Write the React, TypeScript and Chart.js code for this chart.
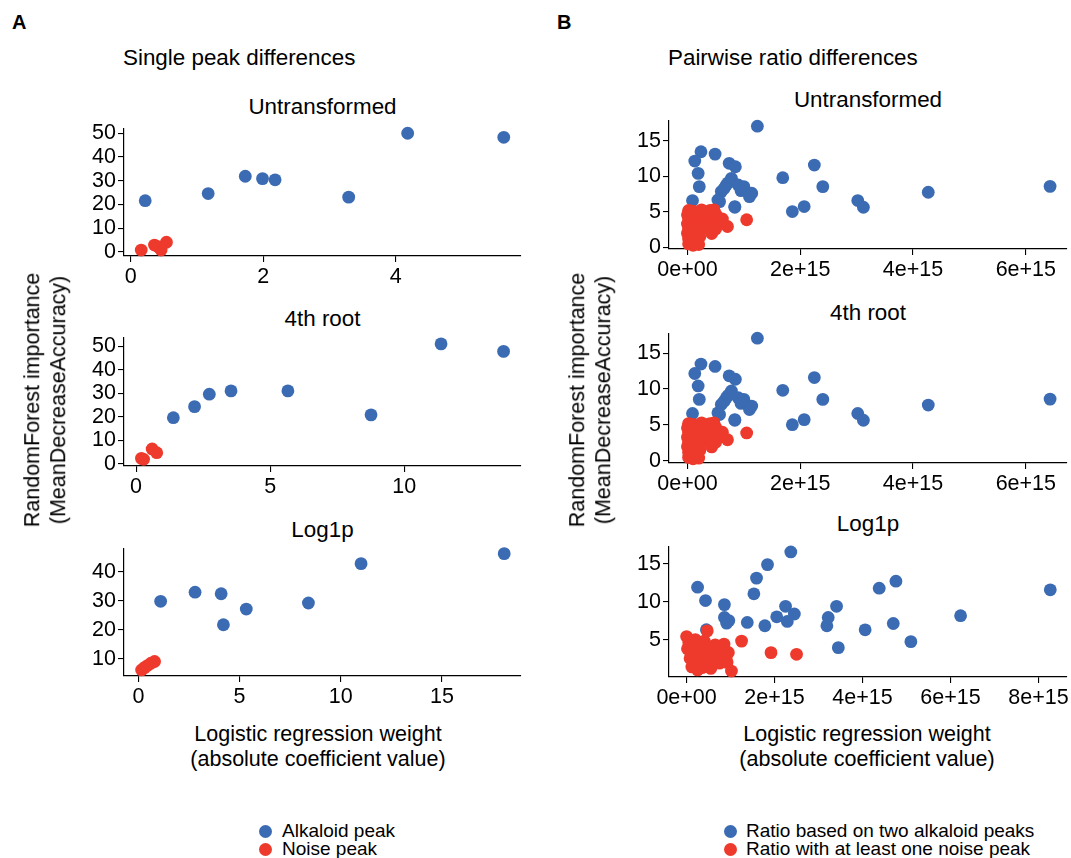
import React, { useEffect, useRef } from "react";
import { Chart, registerables } from "chart.js";
Chart.register(...registerables);

const BLUE = "#3B6BB2";
const RED = "#EE3A2C";
const FONT = "'Liberation Sans', Arial, Helvetica, sans-serif";

// ---------- A: single peak differences ----------
// Untransformed
const rawAlkX = [0.22, 1.17, 1.73, 1.99, 2.18, 3.29, 4.18, 5.63];
const rawAlkY = [21.6, 24.6, 31.9, 30.9, 30.4, 23.1, 50.0, 48.3];
const rawNoiseX = [0.16, 0.36, 0.42, 0.46, 0.54];
const rawNoiseY = [0.8, 2.9, 2.1, 0.8, 4.1];
// 4th root
const rootAlkX = [1.39, 2.18, 2.73, 3.54, 5.66, 8.76, 11.37, 13.7];
const rootAlkY = [19.7, 24.4, 29.7, 31.1, 31.1, 20.9, 51.1, 47.9];
const rootNoiseX = [0.2, 0.28, 0.6, 0.77];
const rootNoiseY = [2.4, 2.0, 6.4, 4.8];
// Log1p
const logAlkX = [1.1, 2.8, 4.09, 4.2, 5.33, 8.4, 11.0, 18.07];
const logAlkY = [29.8, 32.95, 32.4, 21.7, 27.1, 29.2, 42.8, 46.25];
const logNoiseX = [0.16, 0.3, 0.45, 0.62, 0.8];
const logNoiseY = [6.1, 6.9, 7.6, 8.4, 9.0];

// ---------- B: pairwise ratio differences (x in units of 1e15) ----------
// Untransformed (4th root panel shows the same values)
const ratioAlkX = [1.24, 0.24, 0.13, 0.49, 0.19, 0.21, 0.09, 0.74, 0.85, 0.78, 0.69, 0.6, 0.54, 1.0, 1.14, 0.84, 1.69, 2.25, 2.4, 1.86, 2.07, 3.02, 3.12, 4.27, 6.43, 0.65, 0.72, 0.9, 0.95, 0.57, 0.84, 1.1];
const ratioAlkY = [17.07, 13.47, 12.16, 13.14, 10.43, 8.56, 6.6, 11.84, 11.36, 9.73, 8.79, 7.86, 6.69, 8.56, 7.63, 5.66, 9.82, 11.6, 8.56, 5.05, 5.75, 6.6, 5.66, 7.77, 8.6, 8.3, 9.1, 8.8, 8.0, 6.45, 5.75, 7.15];
const ratioNoiseX = [0.02, 0.02, 0.0, 0.02, 0.0, 0.02, 0.0, 0.02, 0.1, 0.12, 0.1, 0.12, 0.1, 0.12, 0.1, 0.2, 0.22, 0.2, 0.22, 0.2, 0.22, 0.25, 0.3, 0.32, 0.3, 0.33, 0.4, 0.42, 0.4, 0.43, 0.5, 0.52, 0.5, 0.47, 0.6, 0.62, 0.71, 1.05];
const ratioNoiseY = [0.5, 1.2, 2.0, 2.6, 3.3, 4.0, 4.6, 5.2, 0.3, 1.0, 1.8, 2.9, 3.6, 4.4, 5.1, 0.4, 1.5, 2.3, 3.1, 4.2, 4.9, 5.3, 2.7, 3.8, 4.5, 5.0, 3.3, 4.1, 5.2, 1.95, 2.6, 3.5, 4.7, 5.3, 3.4, 4.0, 2.95, 3.9];
// Log1p
const ratioLogAlkX = [2.37, 1.84, 1.59, 1.53, 0.25, 0.43, 0.86, 0.86, 0.91, 0.96, 0.45, 1.38, 1.78, 2.05, 2.25, 2.29, 2.45, 3.22, 3.19, 3.41, 3.45, 4.06, 4.38, 4.76, 4.7, 5.1, 6.23, 8.27];
const ratioLogAlkY = [16.55, 14.88, 13.1, 11.03, 11.9, 10.14, 9.61, 7.92, 7.17, 7.5, 6.3, 7.26, 6.82, 8.0, 9.38, 7.39, 8.37, 7.92, 6.82, 9.38, 3.94, 6.29, 11.77, 12.7, 7.12, 4.73, 8.15, 11.56];
const ratioLogNoiseX = [0.0, 0.05, 0.02, 0.1, 0.15, 0.12, 0.25, 0.3, 0.28, 0.22, 0.3, 0.2, 0.47, 0.4, 0.45, 0.42, 0.5, 0.45, 0.55, 0.6, 0.65, 0.7, 0.75, 0.8, 0.85, 0.9, 0.95, 0.92, 1.02, 1.25, 1.92, 2.5, 0.35, 0.08];
const ratioLogNoiseY = [5.4, 4.6, 3.8, 3.0, 2.2, 1.4, 1.0, 1.8, 2.8, 3.6, 4.4, 5.0, 6.15, 4.8, 3.9, 3.1, 2.3, 1.5, 1.2, 3.5, 4.3, 2.9, 1.9, 3.6, 4.4, 2.6, 3.3, 2.0, 0.85, 4.8, 3.28, 3.06, 1.3, 2.5];

// ---------- ticks ----------
const ticksX1 = [0, 2, 4];
const ticksX2 = [0, 5, 10];
const ticksX3 = [0, 5, 10, 15];
const ticksY50 = [0, 10, 20, 30, 40, 50];
const ticksYLog = [10, 20, 30, 40];
const ticksRatioX = [0, 2, 4, 6];
const labelsRatioX = ["0e+00", "2e+15", "4e+15", "6e+15"];
const ticksRatioXLog = [0, 2, 4, 6, 8];
const labelsRatioXLog = ["0e+00", "2e+15", "4e+15", "6e+15", "8e+15"];
const ticksRatioY = [0, 5, 10, 15];
const ticksRatioYLog = [5, 10, 15];

const pts = (xs: number[], ys: number[]) => xs.map((x, i) => ({ x, y: ys[i] }));

const YW = 70; // y-axis box width
const XH = 40; // x-axis box height
const PT = 15;
const PR = 30;
const TITLE = 22.4;

interface Spec {
  L: number; R: number; T: number; B: number;
  xMin: number; xMax: number; xTicks: number[]; xLabels?: string[];
  yMin: number; yMax: number; yTicks: number[];
  blue: { x: number; y: number }[]; red: { x: number; y: number }[];
}

const specs: Spec[] = [
  { L: 124, R: 521, T: 129, B: 256, xMin: -0.1, xMax: 5.89, xTicks: ticksX1, yMin: -1.7, yMax: 51.8, yTicks: ticksY50, blue: pts(rawAlkX, rawAlkY), red: pts(rawNoiseX, rawNoiseY) },
  { L: 124, R: 521, T: 338, B: 466, xMin: -0.45, xMax: 14.35, xTicks: ticksX2, yMin: -0.85, yMax: 53.6, yTicks: ticksY50, blue: pts(rootAlkX, rootAlkY), red: pts(rootNoiseX, rootNoiseY) },
  { L: 124, R: 521, T: 549, B: 676, xMin: -0.71, xMax: 18.9, xTicks: ticksX3, yMin: 4.0, yMax: 47.85, yTicks: ticksYLog, blue: pts(logAlkX, logAlkY), red: pts(logNoiseX, logNoiseY) },
  { L: 669, R: 1067, T: 121, B: 249, xMin: -0.327, xMax: 6.73, xTicks: ticksRatioX, xLabels: labelsRatioX, yMin: -0.22, yMax: 17.8, yTicks: ticksRatioY, blue: pts(ratioAlkX, ratioAlkY), red: pts(ratioNoiseX, ratioNoiseY) },
  { L: 669, R: 1067, T: 334, B: 463, xMin: -0.327, xMax: 6.73, xTicks: ticksRatioX, xLabels: labelsRatioX, yMin: -0.28, yMax: 17.65, yTicks: ticksRatioY, blue: pts(ratioAlkX, ratioAlkY), red: pts(ratioNoiseX, ratioNoiseY) },
  { L: 669, R: 1067, T: 547, B: 677, xMin: -0.4, xMax: 8.65, xTicks: ticksRatioXLog, xLabels: labelsRatioXLog, yMin: 0.07, yMax: 17.2, yTicks: ticksRatioYLog, blue: pts(ratioLogAlkX, ratioLogAlkY), red: pts(ratioLogNoiseX, ratioLogNoiseY) },
];

function axisOpts(min: number, max: number, ticks: number[], labels: string[] | undefined, isX: boolean) {
  return {
    type: "linear" as const,
    min,
    max,
    afterBuildTicks: (s: any) => {
      s.ticks = ticks.map((v) => ({ value: v }));
    },
    afterFit: (s: any) => {
      if (isX) s.height = XH;
      else s.width = YW;
    },
    grid: { display: true, drawOnChartArea: false, drawTicks: true, tickLength: 6, color: "#000", lineWidth: 1.1 },
    border: { display: true, color: "#000", width: 1.2 },
    ticks: {
      color: "#000",
      font: { family: FONT, size: 21.5 },
      padding: 2,
      maxRotation: 0,
      autoSkip: false,
      callback: (v: any, i: number) => (labels ? labels[i] : String(v)),
    },
  };
}

function Panel({ spec }: { spec: Spec }) {
  const ref = useRef<HTMLCanvasElement>(null);
  const W = spec.R - spec.L + YW + PR;
  const H = spec.B - spec.T + PT + XH;
  useEffect(() => {
    const chart = new Chart(ref.current!, {
      type: "scatter",
      data: {
        datasets: [
          { data: spec.red, backgroundColor: RED, borderColor: RED, borderWidth: 0, pointRadius: 6.4, pointHoverRadius: 6.4, order: 0, clip: false } as any,
          { data: spec.blue, backgroundColor: BLUE, borderColor: BLUE, borderWidth: 0, pointRadius: 6.4, pointHoverRadius: 6.4, order: 1, clip: false } as any,
        ],
      },
      options: {
        animation: false,
        responsive: false,
        maintainAspectRatio: false,
        events: [],
        layout: { padding: { top: PT, right: PR, left: 0, bottom: 0 } },
        plugins: { legend: { display: false }, tooltip: { enabled: false } },
        scales: {
          x: axisOpts(spec.xMin, spec.xMax, spec.xTicks, spec.xLabels, true),
          y: axisOpts(spec.yMin, spec.yMax, spec.yTicks, undefined, false),
        } as any,
      },
    });
    return () => chart.destroy();
  }, []);
  return (
    <canvas
      ref={ref}
      width={W}
      height={H}
      style={{ position: "absolute", left: spec.L - YW, top: spec.T - PT, width: W, height: H }}
    />
  );
}

const T = (props: { x: number; y: number; children: React.ReactNode; size?: number; bold?: boolean; align?: "left" | "center"; rotate?: boolean; lh?: number }) => {
  const { x, y, size = 21.5, bold, align = "center", rotate, lh = 1.2 } = props;
  const tf = rotate
    ? "translate(-50%,-50%) rotate(-90deg)"
    : align === "center"
    ? "translate(-50%,-50%)"
    : "translate(0,-50%)";
  return (
    <div
      style={{
        position: "absolute",
        left: x,
        top: y,
        transform: tf,
        fontFamily: FONT,
        fontSize: size,
        fontWeight: bold ? "bold" : "normal",
        whiteSpace: "nowrap",
        textAlign: "center",
        lineHeight: lh,
        color: "#000",
      }}
    >
      {props.children}
    </div>
  );
};

const Dot = ({ x, y, c }: { x: number; y: number; c: string }) => (
  <div style={{ position: "absolute", left: x - 6.5, top: y - 6.5, width: 13, height: 13, borderRadius: "50%", background: c }} />
);

export default function App() {
  return (
    <div style={{ position: "absolute", left: 0, top: 0, width: 1071, height: 858, overflow: "hidden", background: "#fff" }}>
      <T x={12} y={22} size={20} bold align="left">A</T>
      <T x={557} y={22} size={20} bold align="left">B</T>
      <T x={123} y={58} size={TITLE} align="left">Single peak differences</T>
      <T x={668} y={58} size={TITLE} align="left">Pairwise ratio differences</T>

      <T x={322.5} y={107} size={TITLE}>Untransformed</T>
      <T x={322.5} y={319} size={TITLE}>4th root</T>
      <T x={322.5} y={530} size={TITLE}>Log1p</T>
      <T x={868} y={100} size={TITLE}>Untransformed</T>
      <T x={868} y={313} size={TITLE}>4th root</T>
      <T x={868} y={524} size={TITLE}>Log1p</T>

      {specs.map((s, i) => (
        <Panel key={i} spec={s} />
      ))}

      <T x={46} y={400} rotate lh={1.2}>
        RandomForest importance
        <br />
        (MeanDecreaseAccuracy)
      </T>
      <T x={591} y={400} rotate lh={1.2}>
        RandomForest importance
        <br />
        (MeanDecreaseAccuracy)
      </T>
      <T x={318} y={747} lh={1.17}>
        Logistic regression weight
        <br />
        (absolute coefficient value)
      </T>
      <T x={867} y={747} lh={1.17}>
        Logistic regression weight
        <br />
        (absolute coefficient value)
      </T>

      <Dot x={265} y={831} c={BLUE} />
      <Dot x={265} y={849} c={RED} />
      <T x={282} y={831} size={19} align="left">Alkaloid peak</T>
      <T x={282} y={849} size={19} align="left">Noise peak</T>
      <Dot x={730} y={831} c={BLUE} />
      <Dot x={730} y={849} c={RED} />
      <T x={746} y={831} size={19} align="left">Ratio based on two alkaloid peaks</T>
      <T x={746} y={849} size={19} align="left">Ratio with at least one noise peak</T>
    </div>
  );
}
